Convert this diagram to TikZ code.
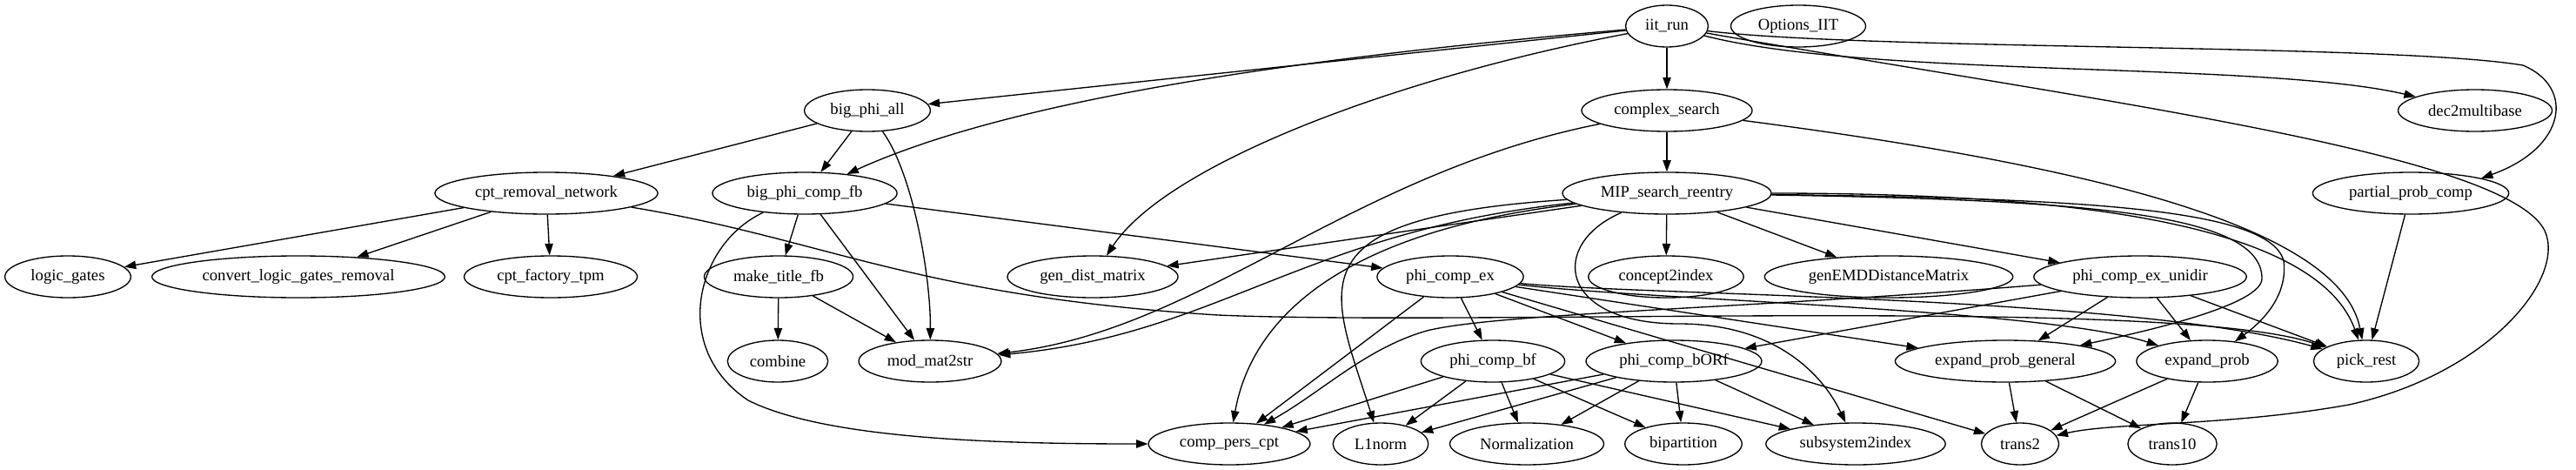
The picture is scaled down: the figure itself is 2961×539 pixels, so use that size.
\documentclass[tikz,border=0pt]{standalone}
\usepackage{fontspec}
\setmainfont{Liberation Serif}
\usetikzlibrary{shapes.geometric, arrows.meta}

\begin{document}
\begin{tikzpicture}[x=0.75pt, y=-0.75pt,
    fn/.style={draw, ellipse, line width=1pt, minimum width=54pt, minimum height=36pt,
               inner xsep=6.5pt, inner ysep=2pt, font=\fontsize{14pt}{16pt}\selectfont},
    call/.style={line width=1pt, -{Triangle[length=10pt, width=7pt]}}]
    \useasboundingbox (0,0) rectangle (2961,539);

    % Rank 0
    \node[fn] (iit)  at (1916, 30) {iit\_run};
    \node[fn] (opts) at (2067, 30) {Options\_IIT};
    % Rank 1
    \node[fn] (bpa)  at (997, 127)  {big\_phi\_all};
    \node[fn] (cs)   at (1916, 127) {complex\_search};
    \node[fn] (d2m)  at (2845, 127) {dec2multibase};
    % Rank 2
    \node[fn] (crn)  at (628, 222)  {cpt\_removal\_network};
    \node[fn] (bpcf) at (925, 222)  {big\_phi\_comp\_fb};
    \node[fn] (mip)  at (1916, 222) {MIP\_search\_reentry};
    \node[fn] (ppc)  at (2771, 222) {partial\_prob\_comp};
    % Rank 3
    \node[fn] (lg)   at (78, 318)   {logic\_gates};
    \node[fn] (clgr) at (343, 318)  {convert\_logic\_gates\_removal};
    \node[fn] (cft)  at (633, 318)  {cpt\_factory\_tpm};
    \node[fn] (mtf)  at (895, 318)  {make\_title\_fb};
    \node[fn] (gdm)  at (1256, 318) {gen\_dist\_matrix};
    \node[fn] (pce)  at (1667, 318) {phi\_comp\_ex};
    \node[fn] (c2i)  at (1915, 318) {concept2index};
    \node[fn] (gemd) at (2171, 318) {genEMDDistanceMatrix};
    \node[fn] (pceu) at (2460, 318) {phi\_comp\_ex\_unidir};
    % Rank 4
    \node[fn] (comb) at (894, 415)  {combine};
    \node[fn] (mm)   at (1069, 415) {mod\_mat2str};
    \node[fn] (pcbf) at (1716, 415) {phi\_comp\_bf};
    \node[fn] (pcbo) at (1924, 415) {phi\_comp\_bORf};
    \node[fn] (epg)  at (2305, 415) {expand\_prob\_general};
    \node[fn] (ep)   at (2537, 415) {expand\_prob};
    \node[fn] (pr)   at (2720, 415) {pick\_rest};
    % Rank 5
    \node[fn] (cpc)  at (1413, 510) {comp\_pers\_cpt};
    \node[fn] (l1)   at (1587, 510) {L1norm};
    \node[fn] (norm) at (1755, 510) {Normalization};
    \node[fn] (bip)  at (1935, 510) {bipartition};
    \node[fn] (s2i)  at (2133, 510) {subsystem2index};
    \node[fn] (t2)   at (2322, 510) {trans2};
    \node[fn] (t10)  at (2497, 510) {trans10};

    % Straight calls
    \foreach \a/\b in {iit/bpa, iit/cs, bpa/crn, bpa/bpcf, crn/lg, crn/clgr, crn/cft,
                       bpcf/mtf, bpcf/mm, bpcf/pce, mtf/comb, mtf/mm, cs/mip,
                       mip/gdm, mip/c2i, mip/gemd, mip/pceu,
                       pce/pcbf, pce/pcbo, pce/cpc, pce/epg, pce/t2,
                       pceu/epg, pceu/ep, pceu/pr, pceu/pcbo,
                       pcbf/cpc, pcbf/l1, pcbf/norm, pcbf/bip, pcbf/s2i,
                       pcbo/cpc, pcbo/l1, pcbo/norm, pcbo/bip, pcbo/s2i,
                       epg/t2, epg/t10, ep/t2, ep/t10, ppc/pr}
        \draw[call] (\a) -- (\b);

    % Curved calls from iit_run
    \draw[call] (iit) .. controls (1450,70) and (1150,120) .. (bpcf);
    \draw[call] (iit) .. controls (1600,90) and (1340,190) .. (gdm);
    \draw[call] (iit) .. controls (2150,90) and (2600,70) .. (d2m);
    \draw[call] (iit) .. controls (2150,58) and (2750,50) .. (2900,75)
                      .. controls (2960,100) and (2950,170) .. (ppc.12);
    \draw[call] (iit) .. controls (2400,115) and (2880,175) .. (2925,265)
                      .. controls (2950,320) and (2860,430) .. (2700,465)
                      .. controls (2560,490) and (2430,485) .. (t2);

    % Curved calls further down
    \draw[call] (bpa) .. controls (1050,200) and (1070,320) .. (mm);
    \draw[call] (crn) .. controls (950,275) and (1050,340) .. (1400,362)
                      .. controls (1700,375) and (2500,340) .. (pr);
    \draw[call] (bpcf) .. controls (800,280) and (770,400) .. (860,460)
                       .. controls (950,505) and (1150,510) .. (cpc);
    \draw[call] (cs) .. controls (1550,200) and (1380,380) .. (mm);
    \draw[call] (cs) .. controls (2400,190) and (2690,260) .. (pr);
    \draw[call] (mip) .. controls (1500,265) and (1400,385) .. (mm);
    \draw[call] (mip) .. controls (1550,265) and (1440,360) .. (cpc);
    \draw[call] (mip) .. controls (1480,250) and (1530,330) .. (l1);
    \draw[call] (mip) .. controls (1780,280) and (1790,372) .. (1930,372)
                      .. controls (2040,372) and (2095,430) .. (s2i);
    \draw[call] (mip) .. controls (2350,222) and (2660,250) .. (pr);
    \draw[call] (mip) .. controls (2400,228) and (2610,240) .. (2625,300)
                      .. controls (2630,340) and (2600,370) .. (ep);
    \draw[call] (mip) .. controls (2400,230) and (2600,245) .. (2600,320)
                      .. controls (2600,350) and (2470,380) .. (epg);
    \draw[call] (pce) .. controls (1900,345) and (2350,355) .. (ep);
    \draw[call] (pce) .. controls (1900,340) and (2450,340) .. (pr);
    \draw[call] (pceu) .. controls (2000,355) and (1720,360) .. (1640,380)
                       .. controls (1570,400) and (1520,450) .. (cpc);

\end{tikzpicture}
\end{document}
